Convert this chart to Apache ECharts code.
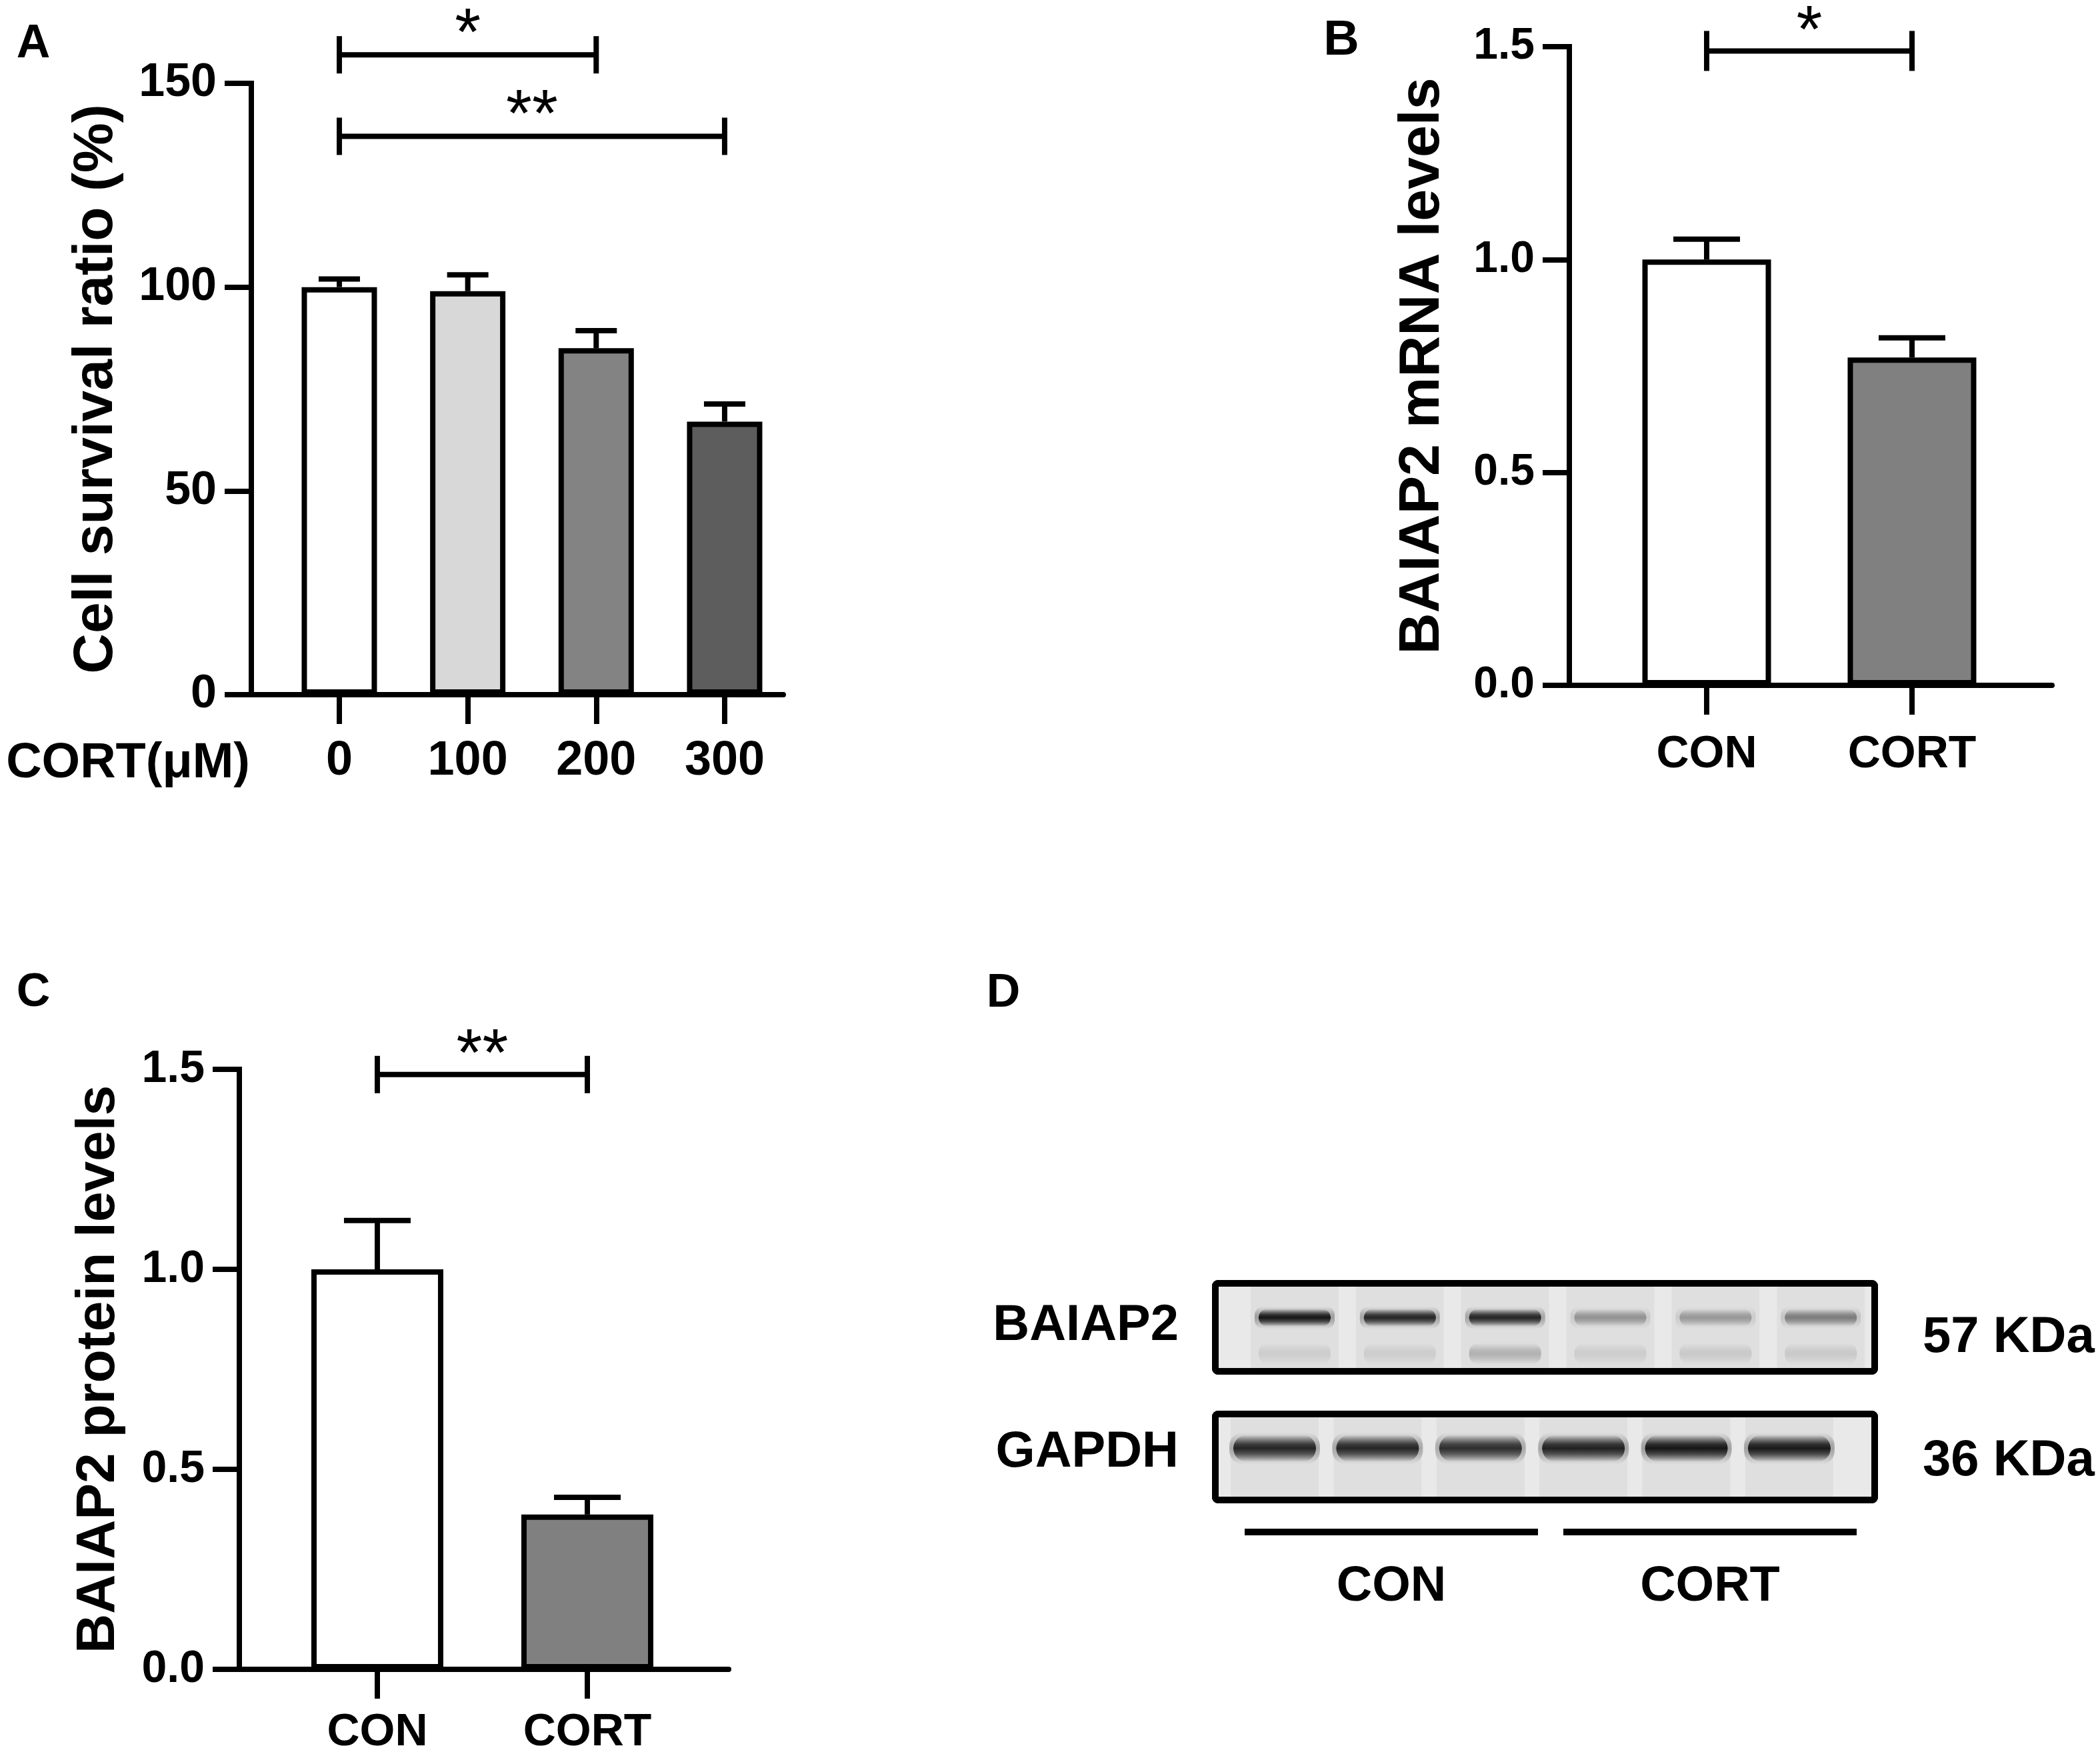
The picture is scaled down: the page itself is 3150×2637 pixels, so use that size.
<!DOCTYPE html>
<html><head><meta charset="utf-8">
<script src="https://cdn.jsdelivr.net/npm/echarts@6/dist/echarts.min.js"></script>
<style>html,body{margin:0;padding:0;background:#fff}#c{width:3150px;height:2637px}</style>
</head><body><div id="c"></div>
<script>
// ---------- Panel A ----------
const catsA = ['0', '100', '200', '300'];
const meanA = [100, 99, 85, 67];
const semA = [2, 4, 4.3, 4.3];
const colorsA = ['#ffffff', '#d8d8d8', '#838383', '#5d5d5d'];
const sigA = [[0, 2, 157, '*'], [0, 3, 137, '**']];
// ---------- Panel B ----------
const catsB = ['CON', 'CORT'];
const meanB = [1.0, 0.77];
const semB = [0.048, 0.046];
const colorsB = ['#ffffff', '#808080'];
const sigB = [[0, 1, 1.49, '*']];
// ---------- Panel C ----------
const catsC = ['CON', 'CORT'];
const meanC = [1.0, 0.387];
const semC = [0.122, 0.043];
const colorsC = ['#ffffff', '#808080'];
const sigC = [[0, 1, 1.487, '**']];
// ---------- Panel D (western blot band intensities, 0..1) ----------
const lanes = [1, 2, 3, 4, 5, 6];
const baiap2Band = [0.95, 0.85, 0.85, 0.3, 0.28, 0.4];
const baiap2Lower = [0.1, 0.1, 0.25, 0.1, 0.12, 0.12];
const gapdhBand = [0.85, 0.85, 0.8, 0.88, 0.95, 0.93];
const groups = ['CON', 'CORT'];

const F = '"Liberation Sans", Arial, Helvetica, sans-serif';
const chart = echarts.init(document.getElementById('c'), null, {renderer: 'canvas'});

function yAx(gi, max, interval, name, nameGap, nameSize, labelSize, fmt) {
  return {
    type: 'value', gridIndex: gi, min: 0, max: max, interval: interval,
    name: name, nameLocation: 'middle', nameGap: nameGap, nameRotate: 90,
    nameTextStyle: {fontFamily: F, fontWeight: 'bold', fontSize: nameSize, color: '#000'},
    axisLine: {show: true, onZero: false, lineStyle: {color: '#000', width: 8, cap: 'square'}},
    axisTick: {show: true, length: 40, lineStyle: {color: '#000', width: 8}},
    axisLabel: {margin: 52, fontFamily: F, fontWeight: 'bold', fontSize: labelSize, color: '#000', formatter: fmt},
    splitLine: {show: false}
  };
}
function xAx(gi, min, max, cats, margin, labelSize) {
  const idx = cats.map((c, i) => i);
  return {
    type: 'value', gridIndex: gi, min: min, max: max,
    axisLine: {show: true, onZero: false, lineStyle: {color: '#000', width: 8}},
    axisTick: {show: true, customValues: idx, length: 44, lineStyle: {color: '#000', width: 8}},
    axisLabel: {customValues: idx, margin: margin, fontFamily: F, fontWeight: 'bold', fontSize: labelSize, color: '#000',
      formatter: v => cats[Math.round(v)]},
    splitLine: {show: false}
  };
}
function barSeries(gi, means, colors, width) {
  return {
    type: 'bar', xAxisIndex: gi, yAxisIndex: gi, barWidth: width, z: 3,
    data: means.map((v, i) => ({value: [i, v], itemStyle: {color: colors[i], borderColor: '#000', borderWidth: 8}}))
  };
}
function errSeries(gi, means, sems, capHalf) {
  return {
    type: 'custom', xAxisIndex: gi, yAxisIndex: gi, z: 4, clip: false,
    data: means.map((v, i) => [i, v, v + sems[i]]),
    renderItem: function (params, api) {
      const b = api.coord([api.value(0), api.value(1)]);
      const t = api.coord([api.value(0), api.value(2)]);
      return {type: 'group', children: [
        {type: 'line', shape: {x1: b[0], y1: b[1], x2: t[0], y2: t[1]}, style: {stroke: '#000', lineWidth: 8}},
        {type: 'line', shape: {x1: t[0] - capHalf, y1: t[1], x2: t[0] + capHalf, y2: t[1]}, style: {stroke: '#000', lineWidth: 8}}
      ]};
    }
  };
}
function sigSeries(gi, sig, capH, textOff, fontSize) {
  return {
    type: 'custom', xAxisIndex: gi, yAxisIndex: gi, z: 5, clip: false,
    data: sig.map(s => [s[0], s[1], s[2]]),
    renderItem: function (params, api) {
      const p1 = api.coord([api.value(0), api.value(2)]);
      const p2 = api.coord([api.value(1), api.value(2)]);
      const lab = sig[params.dataIndex][3];
      return {type: 'group', children: [
        {type: 'line', shape: {x1: p1[0], y1: p1[1], x2: p2[0], y2: p2[1]}, style: {stroke: '#000', lineWidth: 8}},
        {type: 'line', shape: {x1: p1[0], y1: p1[1] - capH, x2: p1[0], y2: p1[1] + capH}, style: {stroke: '#000', lineWidth: 8}},
        {type: 'line', shape: {x1: p2[0], y1: p2[1] - capH, x2: p2[0], y2: p2[1] + capH}, style: {stroke: '#000', lineWidth: 8}},
        {type: 'text', style: {text: lab, x: (p1[0] + p2[0]) / 2, y: p1[1] - textOff, font: 'normal ' + fontSize + 'px ' + F,
          textAlign: 'center', textVerticalAlign: 'middle', fill: '#000'}}
      ]};
    }
  };
}
function vgrad(r, g, b, a) {
  return {type: 'linear', x: 0, y: 0, x2: 0, y2: 1, colorStops: [
    {offset: 0, color: 'rgba(' + r + ',' + g + ',' + b + ',0)'},
    {offset: 0.35, color: 'rgba(' + r + ',' + g + ',' + b + ',' + (a * 0.85) + ')'},
    {offset: 0.5, color: 'rgba(' + r + ',' + g + ',' + b + ',' + a + ')'},
    {offset: 0.7, color: 'rgba(' + r + ',' + g + ',' + b + ',' + (a * 0.7) + ')'},
    {offset: 1, color: 'rgba(' + r + ',' + g + ',' + b + ',0)'}
  ]};
}
function blotSeries(gi, main, lower, bandW, bandH, mainY, lowerY) {
  return {
    type: 'custom', xAxisIndex: gi, yAxisIndex: gi, z: 3, clip: true,
    data: lanes.map((l, i) => [l, main[i], lower ? lower[i] : 0]),
    renderItem: function (params, api) {
      const c = api.coord([api.value(0), mainY]);
      const top = api.coord([api.value(0), 1]);
      const bot = api.coord([api.value(0), 0]);
      const k = api.value(1);
      const ch = [
        {type: 'rect', shape: {x: c[0] - 66, y: top[1], width: 132, height: bot[1] - top[1]}, style: {fill: 'rgba(0,0,0,0.04)'}},
        {type: 'rect', shape: {x: c[0] - bandW / 2 - 6, y: c[1] - bandH / 2 - 4, width: bandW + 12, height: bandH + 8, r: bandH / 2},
          style: {fill: vgrad(30, 30, 30, k * 0.35)}},
        {type: 'rect', shape: {x: c[0] - bandW / 2, y: c[1] - bandH / 2, width: bandW, height: bandH, r: bandH / 2},
          style: {fill: vgrad(15, 15, 15, k)}}
      ];
      if (lower) {
        const c2 = api.coord([api.value(0), lowerY]);
        const k2 = api.value(2);
        ch.push({type: 'rect', shape: {x: c2[0] - bandW / 2, y: c2[1] - 16, width: bandW, height: 32, r: 14},
          style: {fill: vgrad(40, 40, 40, k2)}});
      }
      return {type: 'group', children: ch};
    }
  };
}

const hidden = (gi, min, max) => ({type: 'value', gridIndex: gi, min: min, max: max, show: false});

const option = {
  backgroundColor: '#ffffff',
  animation: false,
  grid: [
    {left: 377, top: 125, width: 798, height: 917, outerBoundsMode: 'none'},
    {left: 2354, top: 70, width: 724, height: 958, outerBoundsMode: 'none'},
    {left: 359, top: 1604, width: 734, height: 900, outerBoundsMode: 'none'},
    {left: 1828, top: 1925, width: 979, height: 132, outerBoundsMode: 'none'},
    {left: 1828, top: 2121, width: 979, height: 129, outerBoundsMode: 'none'},
    {left: 1848, top: 2290, width: 956, height: 16, outerBoundsMode: 'none'}
  ],
  xAxis: [
    xAx(0, -0.685, 3.457, catsA, 64, 72),
    xAx(1, -0.669, 1.682, catsB, 70, 68),
    xAx(2, -0.657, 1.673, catsC, 61, 68),
    hidden(3, 0.278, 6.48),
    hidden(4, 0.456, 6.797),
    {type: 'category', gridIndex: 5, data: groups, axisLine: {show: false}, axisTick: {show: false},
      axisLabel: {margin: 38, fontFamily: F, fontWeight: 'bold', fontSize: 74, color: '#000'}}
  ],
  yAxis: [
    yAx(0, 150, 50, 'Cell survival ratio (%)', 190, 84, 70, v => String(v)),
    yAx(1, 1.5, 0.5, 'BAIAP2 mRNA levels', 177, 86, 66, v => v.toFixed(1)),
    yAx(2, 1.5, 0.5, 'BAIAP2 protein levels', 170, 82, 68, v => v.toFixed(1)),
    hidden(3, 0, 1),
    hidden(4, 0, 1),
    hidden(5, 0, 1)
  ],
  series: [
    barSeries(0, meanA, colorsA, 113),
    errSeries(0, meanA, semA, 31),
    sigSeries(0, sigA, 28, 28, 100),
    barSeries(1, meanB, colorsB, 193),
    errSeries(1, meanB, semB, 50),
    sigSeries(1, sigB, 30, 26, 100),
    barSeries(2, meanC, colorsC, 198),
    errSeries(2, meanC, semC, 50),
    sigSeries(2, sigC, 28, 26, 100),
    blotSeries(3, baiap2Band, baiap2Lower, 108, 26, 0.61, 0.2),
    blotSeries(4, gapdhBand, null, 124, 40, 0.6, 0),
    {
      type: 'custom', xAxisIndex: 5, yAxisIndex: 5, z: 3, clip: false,
      data: groups.map((g, i) => [i, 0.5]),
      renderItem: function (params, api) {
        const c = api.coord([api.value(0), api.value(1)]);
        return {type: 'line', shape: {x1: c[0] - 220, y1: c[1], x2: c[0] + 220, y2: c[1]}, style: {stroke: '#000', lineWidth: 10}};
      }
    }
  ],
  graphic: [
    {type: 'text', z: 10, style: {text: 'A', x: 50, y: 67, font: 'bold 70px ' + F, textAlign: 'center', textVerticalAlign: 'middle', fill: '#000'}},
    {type: 'text', z: 10, style: {text: 'B', x: 2012, y: 62, font: 'bold 74px ' + F, textAlign: 'center', textVerticalAlign: 'middle', fill: '#000'}},
    {type: 'text', z: 10, style: {text: 'C', x: 50, y: 1490, font: 'bold 70px ' + F, textAlign: 'center', textVerticalAlign: 'middle', fill: '#000'}},
    {type: 'text', z: 10, style: {text: 'D', x: 1505, y: 1491, font: 'bold 70px ' + F, textAlign: 'center', textVerticalAlign: 'middle', fill: '#000'}},
    {type: 'text', z: 10, style: {text: 'CORT(\u03bcM)', x: 375, y: 1146, font: 'bold 74px ' + F, textAlign: 'right', textVerticalAlign: 'middle', fill: '#000'}},
    {type: 'rect', z: 1, shape: {x: 1823, y: 1925, width: 989, height: 132, r: 4}, style: {fill: '#e9e9e9', stroke: '#000', lineWidth: 10}},
    {type: 'rect', z: 1, shape: {x: 1823, y: 2121, width: 989, height: 129, r: 4}, style: {fill: '#e9e9e9', stroke: '#000', lineWidth: 10}},
    {type: 'rect', z: 6, shape: {x: 1823, y: 1925, width: 989, height: 132, r: 4}, style: {fill: 'none', stroke: '#000', lineWidth: 10}},
    {type: 'rect', z: 6, shape: {x: 1823, y: 2121, width: 989, height: 129, r: 4}, style: {fill: 'none', stroke: '#000', lineWidth: 10}},
    {type: 'text', z: 10, style: {text: 'BAIAP2', x: 1768, y: 1989, font: 'bold 76px ' + F, textAlign: 'right', textVerticalAlign: 'middle', fill: '#000'}},
    {type: 'text', z: 10, style: {text: 'GAPDH', x: 1768, y: 2179, font: 'bold 76px ' + F, textAlign: 'right', textVerticalAlign: 'middle', fill: '#000'}},
    {type: 'text', z: 10, style: {text: '57 KDa', x: 2884, y: 2007, font: 'bold 76px ' + F, textAlign: 'left', textVerticalAlign: 'middle', fill: '#000'}},
    {type: 'text', z: 10, style: {text: '36 KDa', x: 2884, y: 2192, font: 'bold 76px ' + F, textAlign: 'left', textVerticalAlign: 'middle', fill: '#000'}}
  ]
};
chart.setOption(option);
</script>
</body></html>
